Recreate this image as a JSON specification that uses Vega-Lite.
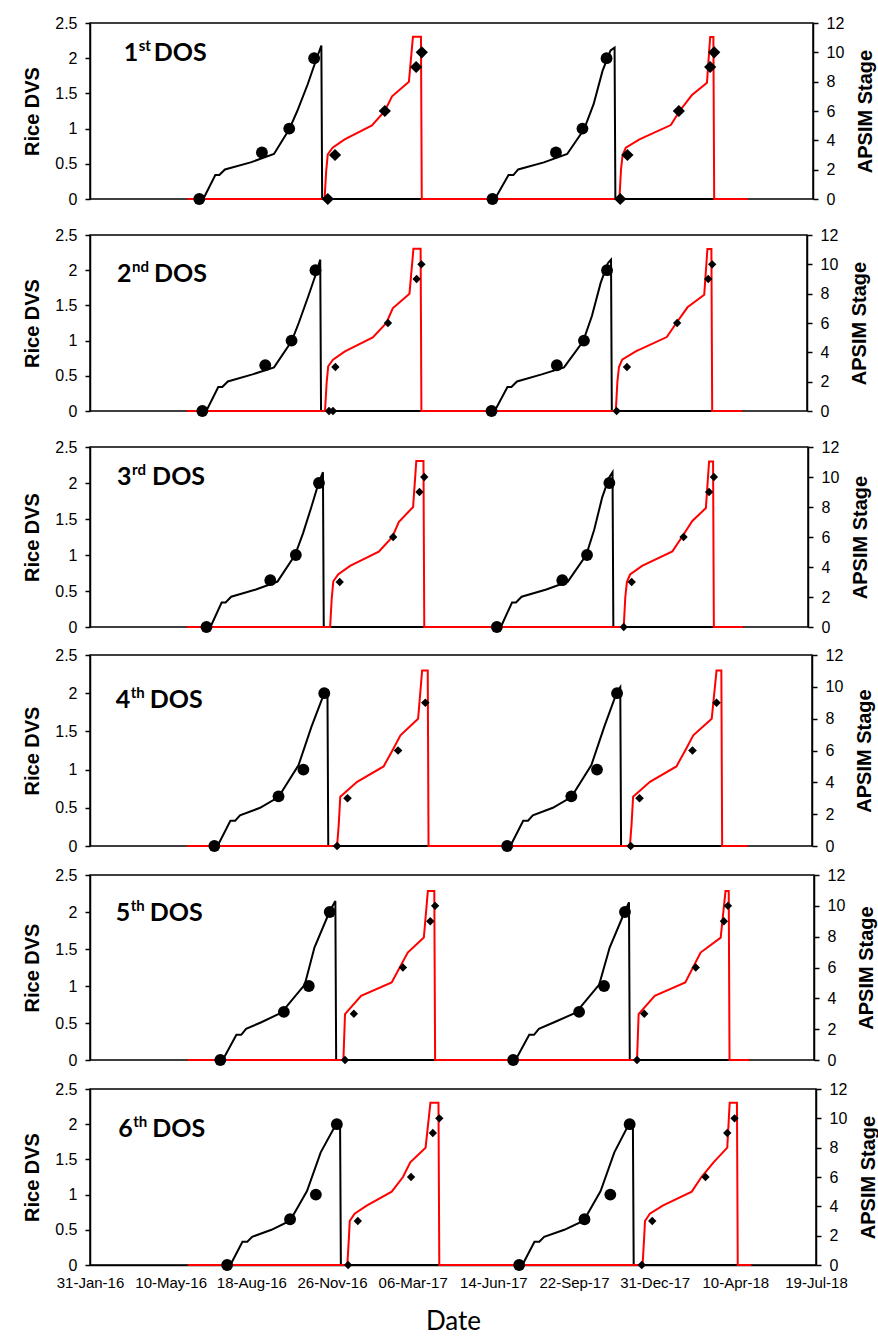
{
"$schema": "https://vega.github.io/schema/vega-lite/v6.json",
"padding": {"left": 22, "top": 14, "right": 5, "bottom": 5},
"background": "white",
"datasets": {
"dvs": [
{"p":1,"d":"2016-05-31","v":0},{"p":1,"d":"2016-06-20","v":0},{"p":1,"d":"2016-07-05","v":0.34},{"p":1,"d":"2016-07-10","v":0.34},{"p":1,"d":"2016-07-17","v":0.42},{"p":1,"d":"2016-08-18","v":0.52},{"p":1,"d":"2016-09-16","v":0.64},{"p":1,"d":"2016-10-05","v":0.99},{"p":1,"d":"2016-10-15","v":1.25},{"p":1,"d":"2016-10-28","v":1.63},{"p":1,"d":"2016-11-07","v":1.96},{"p":1,"d":"2016-11-14","v":2.18},{"p":1,"d":"2016-11-15","v":0},{"p":1,"d":"2017-06-18","v":0},{"p":1,"d":"2017-07-05","v":0.34},{"p":1,"d":"2017-07-11","v":0.34},{"p":1,"d":"2017-07-17","v":0.42},{"p":1,"d":"2017-08-18","v":0.52},{"p":1,"d":"2017-09-16","v":0.64},{"p":1,"d":"2017-10-07","v":0.99},{"p":1,"d":"2017-10-19","v":1.35},{"p":1,"d":"2017-10-30","v":1.82},{"p":1,"d":"2017-11-09","v":2.11},{"p":1,"d":"2017-11-14","v":2.15},{"p":1,"d":"2017-11-15","v":0},{"p":1,"d":"2018-04-29","v":0},
{"p":2,"d":"2016-05-31","v":0},{"p":2,"d":"2016-06-25","v":0},{"p":2,"d":"2016-07-10","v":0.34},{"p":2,"d":"2016-07-15","v":0.34},{"p":2,"d":"2016-07-22","v":0.42},{"p":2,"d":"2016-08-22","v":0.52},{"p":2,"d":"2016-09-18","v":0.62},{"p":2,"d":"2016-10-10","v":0.99},{"p":2,"d":"2016-10-19","v":1.25},{"p":2,"d":"2016-10-31","v":1.63},{"p":2,"d":"2016-11-10","v":1.96},{"p":2,"d":"2016-11-15","v":2.15},{"p":2,"d":"2016-11-16","v":0},{"p":2,"d":"2017-06-22","v":0},{"p":2,"d":"2017-07-08","v":0.34},{"p":2,"d":"2017-07-13","v":0.34},{"p":2,"d":"2017-07-20","v":0.42},{"p":2,"d":"2017-08-20","v":0.52},{"p":2,"d":"2017-09-17","v":0.62},{"p":2,"d":"2017-10-11","v":0.99},{"p":2,"d":"2017-10-22","v":1.35},{"p":2,"d":"2017-11-02","v":1.82},{"p":2,"d":"2017-11-11","v":2.1},{"p":2,"d":"2017-11-15","v":2.15},{"p":2,"d":"2017-11-16","v":0},{"p":2,"d":"2018-04-29","v":0},
{"p":3,"d":"2016-05-31","v":0},{"p":3,"d":"2016-06-30","v":0},{"p":3,"d":"2016-07-14","v":0.34},{"p":3,"d":"2016-07-19","v":0.34},{"p":3,"d":"2016-07-26","v":0.42},{"p":3,"d":"2016-08-26","v":0.52},{"p":3,"d":"2016-09-22","v":0.63},{"p":3,"d":"2016-10-14","v":1.0},{"p":3,"d":"2016-10-24","v":1.3},{"p":3,"d":"2016-11-03","v":1.65},{"p":3,"d":"2016-11-12","v":1.98},{"p":3,"d":"2016-11-18","v":2.15},{"p":3,"d":"2016-11-19","v":0},{"p":3,"d":"2017-06-29","v":0},{"p":3,"d":"2017-07-13","v":0.34},{"p":3,"d":"2017-07-18","v":0.34},{"p":3,"d":"2017-07-25","v":0.42},{"p":3,"d":"2017-08-25","v":0.52},{"p":3,"d":"2017-09-21","v":0.63},{"p":3,"d":"2017-10-14","v":1.0},{"p":3,"d":"2017-10-24","v":1.35},{"p":3,"d":"2017-11-03","v":1.8},{"p":3,"d":"2017-11-12","v":2.08},{"p":3,"d":"2017-11-16","v":2.15},{"p":3,"d":"2017-11-17","v":0},{"p":3,"d":"2018-04-29","v":0},
{"p":4,"d":"2016-05-31","v":0},{"p":4,"d":"2016-07-08","v":0},{"p":4,"d":"2016-07-24","v":0.33},{"p":4,"d":"2016-07-30","v":0.33},{"p":4,"d":"2016-08-05","v":0.4},{"p":4,"d":"2016-08-30","v":0.5},{"p":4,"d":"2016-09-22","v":0.64},{"p":4,"d":"2016-10-17","v":1.06},{"p":4,"d":"2016-11-02","v":1.56},{"p":4,"d":"2016-11-18","v":2.0},{"p":4,"d":"2016-11-22","v":2.03},{"p":4,"d":"2016-11-23","v":0},{"p":4,"d":"2017-07-08","v":0},{"p":4,"d":"2017-07-24","v":0.33},{"p":4,"d":"2017-07-30","v":0.33},{"p":4,"d":"2017-08-05","v":0.4},{"p":4,"d":"2017-08-30","v":0.5},{"p":4,"d":"2017-09-22","v":0.64},{"p":4,"d":"2017-10-17","v":1.06},{"p":4,"d":"2017-11-02","v":1.56},{"p":4,"d":"2017-11-18","v":2.02},{"p":4,"d":"2017-11-22","v":2.08},{"p":4,"d":"2017-11-23","v":0},{"p":4,"d":"2018-04-30","v":0},
{"p":5,"d":"2016-05-31","v":0},{"p":5,"d":"2016-07-14","v":0},{"p":5,"d":"2016-07-31","v":0.34},{"p":5,"d":"2016-08-06","v":0.34},{"p":5,"d":"2016-08-12","v":0.42},{"p":5,"d":"2016-08-31","v":0.51},{"p":5,"d":"2016-09-25","v":0.64},{"p":5,"d":"2016-10-24","v":1.02},{"p":5,"d":"2016-11-05","v":1.52},{"p":5,"d":"2016-11-24","v":2.01},{"p":5,"d":"2016-12-01","v":2.15},{"p":5,"d":"2016-12-02","v":0},{"p":5,"d":"2017-07-13","v":0},{"p":5,"d":"2017-07-30","v":0.34},{"p":5,"d":"2017-08-05","v":0.34},{"p":5,"d":"2017-08-11","v":0.42},{"p":5,"d":"2017-08-30","v":0.51},{"p":5,"d":"2017-09-26","v":0.64},{"p":5,"d":"2017-10-25","v":1.02},{"p":5,"d":"2017-11-07","v":1.52},{"p":5,"d":"2017-11-26","v":2.01},{"p":5,"d":"2017-12-01","v":2.13},{"p":5,"d":"2017-12-02","v":0},{"p":5,"d":"2018-04-30","v":0},
{"p":6,"d":"2016-05-31","v":0},{"p":6,"d":"2016-07-23","v":0},{"p":6,"d":"2016-08-07","v":0.33},{"p":6,"d":"2016-08-13","v":0.33},{"p":6,"d":"2016-08-19","v":0.4},{"p":6,"d":"2016-09-12","v":0.5},{"p":6,"d":"2016-10-05","v":0.63},{"p":6,"d":"2016-10-26","v":1.05},{"p":6,"d":"2016-11-12","v":1.6},{"p":6,"d":"2016-12-01","v":2.0},{"p":6,"d":"2016-12-06","v":2.02},{"p":6,"d":"2016-12-07","v":0},{"p":6,"d":"2017-07-20","v":0},{"p":6,"d":"2017-08-04","v":0.33},{"p":6,"d":"2017-08-10","v":0.33},{"p":6,"d":"2017-08-16","v":0.4},{"p":6,"d":"2017-09-10","v":0.5},{"p":6,"d":"2017-10-04","v":0.63},{"p":6,"d":"2017-10-25","v":1.05},{"p":6,"d":"2017-11-11","v":1.6},{"p":6,"d":"2017-11-29","v":2.0},{"p":6,"d":"2017-12-04","v":2.02},{"p":6,"d":"2017-12-05","v":0},{"p":6,"d":"2018-04-30","v":0}
],
"st": [
{"p":1,"d":"2016-05-31","v":0},{"p":1,"d":"2016-11-18","v":0},{"p":1,"d":"2016-11-20","v":1.9},{"p":1,"d":"2016-11-22","v":3.05},{"p":1,"d":"2016-11-28","v":3.5},{"p":1,"d":"2016-12-13","v":4.07},{"p":1,"d":"2017-01-16","v":5.02},{"p":1,"d":"2017-02-01","v":6.0},{"p":1,"d":"2017-02-10","v":7.0},{"p":1,"d":"2017-03-03","v":8.0},{"p":1,"d":"2017-03-08","v":11.06},{"p":1,"d":"2017-03-18","v":11.06},{"p":1,"d":"2017-03-19","v":0},{"p":1,"d":"2017-11-20","v":0},{"p":1,"d":"2017-11-22","v":2.0},{"p":1,"d":"2017-11-24","v":3.0},{"p":1,"d":"2017-11-28","v":3.5},{"p":1,"d":"2017-12-15","v":4.07},{"p":1,"d":"2018-01-23","v":5.04},{"p":1,"d":"2018-02-03","v":6.0},{"p":1,"d":"2018-02-18","v":7.07},{"p":1,"d":"2018-03-09","v":7.93},{"p":1,"d":"2018-03-13","v":11.04},{"p":1,"d":"2018-03-17","v":11.04},{"p":1,"d":"2018-03-18","v":0},{"p":1,"d":"2018-04-29","v":0},
{"p":2,"d":"2016-05-31","v":0},{"p":2,"d":"2016-11-21","v":0},{"p":2,"d":"2016-11-23","v":1.9},{"p":2,"d":"2016-11-25","v":3.05},{"p":2,"d":"2016-12-01","v":3.5},{"p":2,"d":"2016-12-16","v":4.07},{"p":2,"d":"2017-01-20","v":5.02},{"p":2,"d":"2017-02-06","v":6.0},{"p":2,"d":"2017-02-14","v":7.0},{"p":2,"d":"2017-03-07","v":8.0},{"p":2,"d":"2017-03-12","v":11.06},{"p":2,"d":"2017-03-21","v":11.06},{"p":2,"d":"2017-03-22","v":0},{"p":2,"d":"2017-11-21","v":0},{"p":2,"d":"2017-11-23","v":2.0},{"p":2,"d":"2017-11-25","v":3.0},{"p":2,"d":"2017-11-29","v":3.5},{"p":2,"d":"2017-12-16","v":4.07},{"p":2,"d":"2018-01-24","v":5.04},{"p":2,"d":"2018-02-05","v":6.0},{"p":2,"d":"2018-02-19","v":7.07},{"p":2,"d":"2018-03-12","v":7.93},{"p":2,"d":"2018-03-16","v":11.04},{"p":2,"d":"2018-03-21","v":11.04},{"p":2,"d":"2018-03-22","v":0},{"p":2,"d":"2018-04-29","v":0},
{"p":3,"d":"2016-05-31","v":0},{"p":3,"d":"2016-11-27","v":0},{"p":3,"d":"2016-11-29","v":1.9},{"p":3,"d":"2016-12-01","v":3.05},{"p":3,"d":"2016-12-07","v":3.5},{"p":3,"d":"2016-12-22","v":4.07},{"p":3,"d":"2017-01-27","v":5.02},{"p":3,"d":"2017-02-13","v":6.0},{"p":3,"d":"2017-02-21","v":7.0},{"p":3,"d":"2017-03-11","v":8.0},{"p":3,"d":"2017-03-15","v":11.06},{"p":3,"d":"2017-03-24","v":11.06},{"p":3,"d":"2017-03-25","v":0},{"p":3,"d":"2017-11-30","v":0},{"p":3,"d":"2017-12-02","v":2.0},{"p":3,"d":"2017-12-04","v":3.0},{"p":3,"d":"2017-12-08","v":3.5},{"p":3,"d":"2017-12-23","v":4.07},{"p":3,"d":"2018-01-30","v":5.04},{"p":3,"d":"2018-02-11","v":6.0},{"p":3,"d":"2018-02-24","v":7.07},{"p":3,"d":"2018-03-13","v":7.93},{"p":3,"d":"2018-03-17","v":11.04},{"p":3,"d":"2018-03-22","v":11.04},{"p":3,"d":"2018-03-23","v":0},{"p":3,"d":"2018-04-29","v":0},
{"p":4,"d":"2016-05-31","v":0},{"p":4,"d":"2016-12-04","v":0},{"p":4,"d":"2016-12-06","v":1.3},{"p":4,"d":"2016-12-08","v":3.09},{"p":4,"d":"2016-12-29","v":4.03},{"p":4,"d":"2017-01-31","v":5.0},{"p":4,"d":"2017-02-12","v":6.1},{"p":4,"d":"2017-02-21","v":6.95},{"p":4,"d":"2017-03-15","v":7.99},{"p":4,"d":"2017-03-20","v":11.02},{"p":4,"d":"2017-03-27","v":11.02},{"p":4,"d":"2017-03-28","v":0},{"p":4,"d":"2017-12-04","v":0},{"p":4,"d":"2017-12-06","v":1.3},{"p":4,"d":"2017-12-08","v":3.09},{"p":4,"d":"2017-12-29","v":4.03},{"p":4,"d":"2018-01-31","v":5.0},{"p":4,"d":"2018-02-12","v":6.1},{"p":4,"d":"2018-02-21","v":6.95},{"p":4,"d":"2018-03-16","v":7.99},{"p":4,"d":"2018-03-22","v":11.02},{"p":4,"d":"2018-03-28","v":11.02},{"p":4,"d":"2018-03-29","v":0},{"p":4,"d":"2018-04-30","v":0},
{"p":5,"d":"2016-05-31","v":0},{"p":5,"d":"2016-12-11","v":0},{"p":5,"d":"2016-12-13","v":2.98},{"p":5,"d":"2017-01-02","v":4.16},{"p":5,"d":"2017-02-09","v":5.03},{"p":5,"d":"2017-03-01","v":6.97},{"p":5,"d":"2017-03-21","v":7.94},{"p":5,"d":"2017-03-26","v":10.96},{"p":5,"d":"2017-04-03","v":10.96},{"p":5,"d":"2017-04-04","v":0},{"p":5,"d":"2017-12-11","v":0},{"p":5,"d":"2017-12-13","v":2.98},{"p":5,"d":"2018-01-02","v":4.16},{"p":5,"d":"2018-02-09","v":5.03},{"p":5,"d":"2018-02-28","v":6.97},{"p":5,"d":"2018-03-25","v":7.94},{"p":5,"d":"2018-03-31","v":10.96},{"p":5,"d":"2018-04-04","v":10.96},{"p":5,"d":"2018-04-05","v":0},{"p":5,"d":"2018-04-30","v":0},
{"p":6,"d":"2016-05-31","v":0},{"p":6,"d":"2016-12-15","v":0},{"p":6,"d":"2016-12-17","v":1.9},{"p":6,"d":"2016-12-18","v":3.0},{"p":6,"d":"2016-12-24","v":3.5},{"p":6,"d":"2017-01-08","v":4.05},{"p":6,"d":"2017-02-08","v":5.0},{"p":6,"d":"2017-02-22","v":6.0},{"p":6,"d":"2017-03-03","v":7.0},{"p":6,"d":"2017-03-22","v":8.0},{"p":6,"d":"2017-03-28","v":11.06},{"p":6,"d":"2017-04-07","v":11.06},{"p":6,"d":"2017-04-08","v":0},{"p":6,"d":"2017-12-16","v":0},{"p":6,"d":"2017-12-18","v":1.9},{"p":6,"d":"2017-12-19","v":3.0},{"p":6,"d":"2017-12-25","v":3.5},{"p":6,"d":"2018-01-10","v":4.05},{"p":6,"d":"2018-02-15","v":5.0},{"p":6,"d":"2018-02-27","v":6.0},{"p":6,"d":"2018-03-14","v":7.0},{"p":6,"d":"2018-03-31","v":8.0},{"p":6,"d":"2018-04-03","v":11.06},{"p":6,"d":"2018-04-12","v":11.06},{"p":6,"d":"2018-04-13","v":0},{"p":6,"d":"2018-04-30","v":0}
],
"dvsobs": [
{"p":1,"d":"2016-06-15","v":0},{"p":1,"d":"2016-09-01","v":0.66},{"p":1,"d":"2016-10-05","v":1.0},{"p":1,"d":"2016-11-05","v":2.0},{"p":1,"d":"2017-06-15","v":0},{"p":1,"d":"2017-09-02","v":0.66},{"p":1,"d":"2017-10-05","v":1.0},{"p":1,"d":"2017-11-04","v":2.0},
{"p":2,"d":"2016-06-20","v":0},{"p":2,"d":"2016-09-07","v":0.65},{"p":2,"d":"2016-10-10","v":1.0},{"p":2,"d":"2016-11-09","v":2.0},{"p":2,"d":"2017-06-18","v":0},{"p":2,"d":"2017-09-08","v":0.65},{"p":2,"d":"2017-10-12","v":1.0},{"p":2,"d":"2017-11-10","v":2.0},
{"p":3,"d":"2016-06-25","v":0},{"p":3,"d":"2016-09-13","v":0.65},{"p":3,"d":"2016-10-15","v":1.0},{"p":3,"d":"2016-11-13","v":2.0},{"p":3,"d":"2017-06-24","v":0},{"p":3,"d":"2017-09-14","v":0.65},{"p":3,"d":"2017-10-15","v":1.0},{"p":3,"d":"2017-11-12","v":2.0},
{"p":4,"d":"2016-07-04","v":0},{"p":4,"d":"2016-09-22","v":0.65},{"p":4,"d":"2016-10-23","v":1.0},{"p":4,"d":"2016-11-18","v":2.0},{"p":4,"d":"2017-07-04","v":0},{"p":4,"d":"2017-09-22","v":0.65},{"p":4,"d":"2017-10-24","v":1.0},{"p":4,"d":"2017-11-18","v":2.0},
{"p":5,"d":"2016-07-11","v":0},{"p":5,"d":"2016-09-28","v":0.65},{"p":5,"d":"2016-10-29","v":1.0},{"p":5,"d":"2016-11-24","v":2.0},{"p":5,"d":"2017-07-10","v":0},{"p":5,"d":"2017-09-30","v":0.65},{"p":5,"d":"2017-10-31","v":1.0},{"p":5,"d":"2017-11-26","v":2.0},
{"p":6,"d":"2016-07-19","v":0},{"p":6,"d":"2016-10-05","v":0.65},{"p":6,"d":"2016-11-06","v":1.0},{"p":6,"d":"2016-12-02","v":2.0},{"p":6,"d":"2017-07-16","v":0},{"p":6,"d":"2017-10-05","v":0.65},{"p":6,"d":"2017-11-06","v":1.0},{"p":6,"d":"2017-11-30","v":2.0}
],
"stobs": [
{"p":1,"d":"2016-11-22","v":0},{"p":1,"d":"2016-12-01","v":3},{"p":1,"d":"2017-02-01","v":6},{"p":1,"d":"2017-03-12","v":9},{"p":1,"d":"2017-03-19","v":10},{"p":1,"d":"2017-11-21","v":0},{"p":1,"d":"2017-11-30","v":3},{"p":1,"d":"2018-02-02","v":6},{"p":1,"d":"2018-03-13","v":9},{"p":1,"d":"2018-03-18","v":10},
{"p":2,"d":"2016-11-26","v":0},{"p":2,"d":"2016-12-01","v":0},{"p":2,"d":"2016-12-04","v":3},{"p":2,"d":"2017-02-08","v":6},{"p":2,"d":"2017-03-16","v":9},{"p":2,"d":"2017-03-22","v":10},{"p":2,"d":"2017-11-22","v":0},{"p":2,"d":"2017-12-05","v":3},{"p":2,"d":"2018-02-06","v":6},{"p":2,"d":"2018-03-17","v":9},{"p":2,"d":"2018-03-22","v":10},
{"p":3,"d":"2016-12-09","v":3},{"p":3,"d":"2017-02-14","v":6},{"p":3,"d":"2017-03-19","v":9},{"p":3,"d":"2017-03-25","v":10},{"p":3,"d":"2017-11-30","v":0},{"p":3,"d":"2017-12-10","v":3},{"p":3,"d":"2018-02-13","v":6},{"p":3,"d":"2018-03-17","v":9},{"p":3,"d":"2018-03-23","v":10},
{"p":4,"d":"2016-12-04","v":0},{"p":4,"d":"2016-12-17","v":3},{"p":4,"d":"2017-02-18","v":6},{"p":4,"d":"2017-03-24","v":9},{"p":4,"d":"2017-12-05","v":0},{"p":4,"d":"2017-12-16","v":3},{"p":4,"d":"2018-02-20","v":6},{"p":4,"d":"2018-03-22","v":9},
{"p":5,"d":"2016-12-13","v":0},{"p":5,"d":"2016-12-24","v":3},{"p":5,"d":"2017-02-23","v":6},{"p":5,"d":"2017-03-29","v":9},{"p":5,"d":"2017-04-04","v":10},{"p":5,"d":"2017-12-11","v":0},{"p":5,"d":"2017-12-20","v":3},{"p":5,"d":"2018-02-22","v":6},{"p":5,"d":"2018-03-29","v":9},{"p":5,"d":"2018-04-03","v":10},
{"p":6,"d":"2016-12-16","v":0},{"p":6,"d":"2016-12-28","v":3},{"p":6,"d":"2017-03-04","v":6},{"p":6,"d":"2017-03-31","v":9},{"p":6,"d":"2017-04-08","v":10},{"p":6,"d":"2017-12-15","v":0},{"p":6,"d":"2017-12-28","v":3},{"p":6,"d":"2018-03-04","v":6},{"p":6,"d":"2018-03-31","v":9},{"p":6,"d":"2018-04-09","v":10}
],
"lab": [
{"p":1,"n":"1","s":"st","t":"DOS"},{"p":2,"n":"2","s":"nd","t":"DOS"},{"p":3,"n":"3","s":"rd","t":"DOS"},{"p":4,"n":"4","s":"th","t":"DOS"},{"p":5,"n":"5","s":"th","t":"DOS"},{"p":6,"n":"6","s":"th","t":"DOS"}
]
},
"spacing": 10,
"vconcat": [
{"spacing": 36, "bounds": "flush", "vconcat": [
{"width": 723, "height": 176, "resolve": {"scale": {"y": "independent"}}, "layer": [
{"data": {"name": "dvs"}, "transform": [{"filter": "datum.p == 1"}], "mark": {"type": "line", "color": "#000", "strokeWidth": 2}, "encoding": {"x": {"field": "d", "type": "temporal", "scale": {"type": "utc", "domain": [1454198400000, 1531958400000]}, "axis": null}, "y": {"field": "v", "type": "quantitative", "scale": {"domain": [0, 2.5]}, "axis": {"title": "Rice DVS", "orient": "left", "values": [0, 0.5, 1, 1.5, 2, 2.5], "format": "~g"}}}},
{"data": {"name": "st"}, "transform": [{"filter": "datum.p == 1"}], "mark": {"type": "line", "color": "#f00", "strokeWidth": 2}, "encoding": {"x": {"field": "d", "type": "temporal", "axis": null}, "y": {"field": "v", "type": "quantitative", "scale": {"domain": [0, 12]}, "axis": {"title": "APSIM Stage", "orient": "right", "values": [0, 2, 4, 6, 8, 10, 12], "titleAngle": 270, "titleBaseline": "top"}}}},
{"data": {"name": "dvsobs"}, "transform": [{"filter": "datum.p == 1"}], "mark": {"type": "point", "shape": "circle", "filled": true, "color": "#000", "opacity": 1, "size": 140}, "encoding": {"x": {"field": "d", "type": "temporal", "axis": null}, "y": {"field": "v", "type": "quantitative", "scale": {"domain": [0, 2.5]}, "axis": null}}},
{"data": {"name": "stobs"}, "transform": [{"filter": "datum.p == 1"}], "mark": {"type": "point", "shape": "diamond", "filled": true, "color": "#000", "opacity": 1, "size": 150}, "encoding": {"x": {"field": "d", "type": "temporal", "axis": null}, "y": {"field": "v", "type": "quantitative", "scale": {"domain": [0, 12]}, "axis": null}}},
{"data": {"name": "lab"}, "transform": [{"filter": "datum.p == 1"}], "mark": {"type": "text", "fontSize": 25, "align": "left", "baseline": "alphabetic"}, "encoding": {"x": {"datum": 1457827200000, "type": "temporal", "axis": null}, "y": {"datum": 1.96, "type": "quantitative", "scale": {"domain": [0, 2.5]}, "axis": null}, "text": {"field": "n"}}},
{"data": {"name": "lab"}, "transform": [{"filter": "datum.p == 1"}], "mark": {"type": "text", "fontSize": 15, "align": "left", "baseline": "alphabetic", "dx": 15, "dy": -10}, "encoding": {"x": {"datum": 1457827200000, "type": "temporal", "axis": null}, "y": {"datum": 1.96, "type": "quantitative", "scale": {"domain": [0, 2.5]}, "axis": null}, "text": {"field": "s"}}},
{"data": {"name": "lab"}, "transform": [{"filter": "datum.p == 1"}], "mark": {"type": "text", "fontSize": 25, "align": "left", "baseline": "alphabetic", "dx": 30}, "encoding": {"x": {"datum": 1457827200000, "type": "temporal", "axis": null}, "y": {"datum": 1.96, "type": "quantitative", "scale": {"domain": [0, 2.5]}, "axis": null}, "text": {"field": "t"}}}
]},
{"width": 717, "height": 176, "resolve": {"scale": {"y": "independent"}}, "layer": [
{"data": {"name": "dvs"}, "transform": [{"filter": "datum.p == 2"}], "mark": {"type": "line", "color": "#000", "strokeWidth": 2}, "encoding": {"x": {"field": "d", "type": "temporal", "scale": {"type": "utc", "domain": [1454198400000, 1531958400000]}, "axis": null}, "y": {"field": "v", "type": "quantitative", "scale": {"domain": [0, 2.5]}, "axis": {"title": "Rice DVS", "orient": "left", "values": [0, 0.5, 1, 1.5, 2, 2.5], "format": "~g"}}}},
{"data": {"name": "st"}, "transform": [{"filter": "datum.p == 2"}], "mark": {"type": "line", "color": "#f00", "strokeWidth": 2}, "encoding": {"x": {"field": "d", "type": "temporal", "axis": null}, "y": {"field": "v", "type": "quantitative", "scale": {"domain": [0, 12]}, "axis": {"title": "APSIM Stage", "orient": "right", "values": [0, 2, 4, 6, 8, 10, 12], "titleAngle": 270, "titleBaseline": "top"}}}},
{"data": {"name": "dvsobs"}, "transform": [{"filter": "datum.p == 2"}], "mark": {"type": "point", "shape": "circle", "filled": true, "color": "#000", "opacity": 1, "size": 140}, "encoding": {"x": {"field": "d", "type": "temporal", "axis": null}, "y": {"field": "v", "type": "quantitative", "scale": {"domain": [0, 2.5]}, "axis": null}}},
{"data": {"name": "stobs"}, "transform": [{"filter": "datum.p == 2"}], "mark": {"type": "point", "shape": "diamond", "filled": true, "color": "#000", "opacity": 1, "size": 70}, "encoding": {"x": {"field": "d", "type": "temporal", "axis": null}, "y": {"field": "v", "type": "quantitative", "scale": {"domain": [0, 12]}, "axis": null}}},
{"data": {"name": "lab"}, "transform": [{"filter": "datum.p == 2"}], "mark": {"type": "text", "fontSize": 25, "align": "left", "baseline": "alphabetic"}, "encoding": {"x": {"datum": 1457136000000, "type": "temporal", "axis": null}, "y": {"datum": 1.83, "type": "quantitative", "scale": {"domain": [0, 2.5]}, "axis": null}, "text": {"field": "n"}}},
{"data": {"name": "lab"}, "transform": [{"filter": "datum.p == 2"}], "mark": {"type": "text", "fontSize": 15, "align": "left", "baseline": "alphabetic", "dx": 15, "dy": -10}, "encoding": {"x": {"datum": 1457136000000, "type": "temporal", "axis": null}, "y": {"datum": 1.83, "type": "quantitative", "scale": {"domain": [0, 2.5]}, "axis": null}, "text": {"field": "s"}}},
{"data": {"name": "lab"}, "transform": [{"filter": "datum.p == 2"}], "mark": {"type": "text", "fontSize": 25, "align": "left", "baseline": "alphabetic", "dx": 37}, "encoding": {"x": {"datum": 1457136000000, "type": "temporal", "axis": null}, "y": {"datum": 1.83, "type": "quantitative", "scale": {"domain": [0, 2.5]}, "axis": null}, "text": {"field": "t"}}}
]},
{"width": 718, "height": 180, "resolve": {"scale": {"y": "independent"}}, "layer": [
{"data": {"name": "dvs"}, "transform": [{"filter": "datum.p == 3"}], "mark": {"type": "line", "color": "#000", "strokeWidth": 2}, "encoding": {"x": {"field": "d", "type": "temporal", "scale": {"type": "utc", "domain": [1454198400000, 1531958400000]}, "axis": null}, "y": {"field": "v", "type": "quantitative", "scale": {"domain": [0, 2.5]}, "axis": {"title": "Rice DVS", "orient": "left", "values": [0, 0.5, 1, 1.5, 2, 2.5], "format": "~g"}}}},
{"data": {"name": "st"}, "transform": [{"filter": "datum.p == 3"}], "mark": {"type": "line", "color": "#f00", "strokeWidth": 2}, "encoding": {"x": {"field": "d", "type": "temporal", "axis": null}, "y": {"field": "v", "type": "quantitative", "scale": {"domain": [0, 12]}, "axis": {"title": "APSIM Stage", "orient": "right", "values": [0, 2, 4, 6, 8, 10, 12], "titleAngle": 270, "titleBaseline": "top"}}}},
{"data": {"name": "dvsobs"}, "transform": [{"filter": "datum.p == 3"}], "mark": {"type": "point", "shape": "circle", "filled": true, "color": "#000", "opacity": 1, "size": 140}, "encoding": {"x": {"field": "d", "type": "temporal", "axis": null}, "y": {"field": "v", "type": "quantitative", "scale": {"domain": [0, 2.5]}, "axis": null}}},
{"data": {"name": "stobs"}, "transform": [{"filter": "datum.p == 3"}], "mark": {"type": "point", "shape": "diamond", "filled": true, "color": "#000", "opacity": 1, "size": 70}, "encoding": {"x": {"field": "d", "type": "temporal", "axis": null}, "y": {"field": "v", "type": "quantitative", "scale": {"domain": [0, 12]}, "axis": null}}},
{"data": {"name": "lab"}, "transform": [{"filter": "datum.p == 3"}], "mark": {"type": "text", "fontSize": 25, "align": "left", "baseline": "alphabetic"}, "encoding": {"x": {"datum": 1457136000000, "type": "temporal", "axis": null}, "y": {"datum": 1.97, "type": "quantitative", "scale": {"domain": [0, 2.5]}, "axis": null}, "text": {"field": "n"}}},
{"data": {"name": "lab"}, "transform": [{"filter": "datum.p == 3"}], "mark": {"type": "text", "fontSize": 15, "align": "left", "baseline": "alphabetic", "dx": 15, "dy": -10}, "encoding": {"x": {"datum": 1457136000000, "type": "temporal", "axis": null}, "y": {"datum": 1.97, "type": "quantitative", "scale": {"domain": [0, 2.5]}, "axis": null}, "text": {"field": "s"}}},
{"data": {"name": "lab"}, "transform": [{"filter": "datum.p == 3"}], "mark": {"type": "text", "fontSize": 25, "align": "left", "baseline": "alphabetic", "dx": 35}, "encoding": {"x": {"datum": 1457136000000, "type": "temporal", "axis": null}, "y": {"datum": 1.97, "type": "quantitative", "scale": {"domain": [0, 2.5]}, "axis": null}, "text": {"field": "t"}}}
]}
]},
{"spacing": 29, "bounds": "flush", "vconcat": [
{"width": 722, "height": 191, "resolve": {"scale": {"y": "independent"}}, "layer": [
{"data": {"name": "dvs"}, "transform": [{"filter": "datum.p == 4"}], "mark": {"type": "line", "color": "#000", "strokeWidth": 2}, "encoding": {"x": {"field": "d", "type": "temporal", "scale": {"type": "utc", "domain": [1454198400000, 1531958400000]}, "axis": null}, "y": {"field": "v", "type": "quantitative", "scale": {"domain": [0, 2.5]}, "axis": {"title": "Rice DVS", "orient": "left", "values": [0, 0.5, 1, 1.5, 2, 2.5], "format": "~g"}}}},
{"data": {"name": "st"}, "transform": [{"filter": "datum.p == 4"}], "mark": {"type": "line", "color": "#f00", "strokeWidth": 2}, "encoding": {"x": {"field": "d", "type": "temporal", "axis": null}, "y": {"field": "v", "type": "quantitative", "scale": {"domain": [0, 12]}, "axis": {"title": "APSIM Stage", "orient": "right", "values": [0, 2, 4, 6, 8, 10, 12], "titleAngle": 270, "titleBaseline": "top"}}}},
{"data": {"name": "dvsobs"}, "transform": [{"filter": "datum.p == 4"}], "mark": {"type": "point", "shape": "circle", "filled": true, "color": "#000", "opacity": 1, "size": 140}, "encoding": {"x": {"field": "d", "type": "temporal", "axis": null}, "y": {"field": "v", "type": "quantitative", "scale": {"domain": [0, 2.5]}, "axis": null}}},
{"data": {"name": "stobs"}, "transform": [{"filter": "datum.p == 4"}], "mark": {"type": "point", "shape": "diamond", "filled": true, "color": "#000", "opacity": 1, "size": 75}, "encoding": {"x": {"field": "d", "type": "temporal", "axis": null}, "y": {"field": "v", "type": "quantitative", "scale": {"domain": [0, 12]}, "axis": null}}},
{"data": {"name": "lab"}, "transform": [{"filter": "datum.p == 4"}], "mark": {"type": "text", "fontSize": 25, "align": "left", "baseline": "alphabetic"}, "encoding": {"x": {"datum": 1456963200000, "type": "temporal", "axis": null}, "y": {"datum": 1.8, "type": "quantitative", "scale": {"domain": [0, 2.5]}, "axis": null}, "text": {"field": "n"}}},
{"data": {"name": "lab"}, "transform": [{"filter": "datum.p == 4"}], "mark": {"type": "text", "fontSize": 15, "align": "left", "baseline": "alphabetic", "dx": 15, "dy": -10}, "encoding": {"x": {"datum": 1456963200000, "type": "temporal", "axis": null}, "y": {"datum": 1.8, "type": "quantitative", "scale": {"domain": [0, 2.5]}, "axis": null}, "text": {"field": "s"}}},
{"data": {"name": "lab"}, "transform": [{"filter": "datum.p == 4"}], "mark": {"type": "text", "fontSize": 25, "align": "left", "baseline": "alphabetic", "dx": 34}, "encoding": {"x": {"datum": 1456963200000, "type": "temporal", "axis": null}, "y": {"datum": 1.8, "type": "quantitative", "scale": {"domain": [0, 2.5]}, "axis": null}, "text": {"field": "t"}}}
]},
{"width": 724, "height": 185, "resolve": {"scale": {"y": "independent"}}, "layer": [
{"data": {"name": "dvs"}, "transform": [{"filter": "datum.p == 5"}], "mark": {"type": "line", "color": "#000", "strokeWidth": 2}, "encoding": {"x": {"field": "d", "type": "temporal", "scale": {"type": "utc", "domain": [1454198400000, 1531958400000]}, "axis": null}, "y": {"field": "v", "type": "quantitative", "scale": {"domain": [0, 2.5]}, "axis": {"title": "Rice DVS", "orient": "left", "values": [0, 0.5, 1, 1.5, 2, 2.5], "format": "~g"}}}},
{"data": {"name": "st"}, "transform": [{"filter": "datum.p == 5"}], "mark": {"type": "line", "color": "#f00", "strokeWidth": 2}, "encoding": {"x": {"field": "d", "type": "temporal", "axis": null}, "y": {"field": "v", "type": "quantitative", "scale": {"domain": [0, 12]}, "axis": {"title": "APSIM Stage", "orient": "right", "values": [0, 2, 4, 6, 8, 10, 12], "titleAngle": 270, "titleBaseline": "top"}}}},
{"data": {"name": "dvsobs"}, "transform": [{"filter": "datum.p == 5"}], "mark": {"type": "point", "shape": "circle", "filled": true, "color": "#000", "opacity": 1, "size": 140}, "encoding": {"x": {"field": "d", "type": "temporal", "axis": null}, "y": {"field": "v", "type": "quantitative", "scale": {"domain": [0, 2.5]}, "axis": null}}},
{"data": {"name": "stobs"}, "transform": [{"filter": "datum.p == 5"}], "mark": {"type": "point", "shape": "diamond", "filled": true, "color": "#000", "opacity": 1, "size": 70}, "encoding": {"x": {"field": "d", "type": "temporal", "axis": null}, "y": {"field": "v", "type": "quantitative", "scale": {"domain": [0, 12]}, "axis": null}}},
{"data": {"name": "lab"}, "transform": [{"filter": "datum.p == 5"}], "mark": {"type": "text", "fontSize": 25, "align": "left", "baseline": "alphabetic"}, "encoding": {"x": {"datum": 1456963200000, "type": "temporal", "axis": null}, "y": {"datum": 1.88, "type": "quantitative", "scale": {"domain": [0, 2.5]}, "axis": null}, "text": {"field": "n"}}},
{"data": {"name": "lab"}, "transform": [{"filter": "datum.p == 5"}], "mark": {"type": "text", "fontSize": 15, "align": "left", "baseline": "alphabetic", "dx": 15, "dy": -10}, "encoding": {"x": {"datum": 1456963200000, "type": "temporal", "axis": null}, "y": {"datum": 1.88, "type": "quantitative", "scale": {"domain": [0, 2.5]}, "axis": null}, "text": {"field": "s"}}},
{"data": {"name": "lab"}, "transform": [{"filter": "datum.p == 5"}], "mark": {"type": "text", "fontSize": 25, "align": "left", "baseline": "alphabetic", "dx": 34}, "encoding": {"x": {"datum": 1456963200000, "type": "temporal", "axis": null}, "y": {"datum": 1.88, "type": "quantitative", "scale": {"domain": [0, 2.5]}, "axis": null}, "text": {"field": "t"}}}
]},
{"width": 726, "height": 176, "resolve": {"scale": {"y": "independent"}}, "layer": [
{"data": {"name": "dvs"}, "transform": [{"filter": "datum.p == 6"}], "mark": {"type": "line", "color": "#000", "strokeWidth": 2}, "encoding": {"x": {"field": "d", "type": "temporal", "scale": {"type": "utc", "domain": [1454198400000, 1531958400000]}, "axis": {"title": "Date", "values": [1454198400000, 1462838400000, 1471478400000, 1480118400000, 1488758400000, 1497398400000, 1506038400000, 1514678400000, 1523318400000, 1531958400000], "labelExpr": "utcFormat(datum.value, '%d-%b-%y')"}}, "y": {"field": "v", "type": "quantitative", "scale": {"domain": [0, 2.5]}, "axis": {"title": "Rice DVS", "orient": "left", "values": [0, 0.5, 1, 1.5, 2, 2.5], "format": "~g"}}}},
{"data": {"name": "st"}, "transform": [{"filter": "datum.p == 6"}], "mark": {"type": "line", "color": "#f00", "strokeWidth": 2}, "encoding": {"x": {"field": "d", "type": "temporal", "axis": {"title": "Date", "values": [1454198400000, 1462838400000, 1471478400000, 1480118400000, 1488758400000, 1497398400000, 1506038400000, 1514678400000, 1523318400000, 1531958400000], "labelExpr": "utcFormat(datum.value, '%d-%b-%y')"}}, "y": {"field": "v", "type": "quantitative", "scale": {"domain": [0, 12]}, "axis": {"title": "APSIM Stage", "orient": "right", "values": [0, 2, 4, 6, 8, 10, 12], "titleAngle": 270, "titleBaseline": "top"}}}},
{"data": {"name": "dvsobs"}, "transform": [{"filter": "datum.p == 6"}], "mark": {"type": "point", "shape": "circle", "filled": true, "color": "#000", "opacity": 1, "size": 140}, "encoding": {"x": {"field": "d", "type": "temporal", "axis": {"title": "Date", "values": [1454198400000, 1462838400000, 1471478400000, 1480118400000, 1488758400000, 1497398400000, 1506038400000, 1514678400000, 1523318400000, 1531958400000], "labelExpr": "utcFormat(datum.value, '%d-%b-%y')"}}, "y": {"field": "v", "type": "quantitative", "scale": {"domain": [0, 2.5]}, "axis": null}}},
{"data": {"name": "stobs"}, "transform": [{"filter": "datum.p == 6"}], "mark": {"type": "point", "shape": "diamond", "filled": true, "color": "#000", "opacity": 1, "size": 70}, "encoding": {"x": {"field": "d", "type": "temporal", "axis": {"title": "Date", "values": [1454198400000, 1462838400000, 1471478400000, 1480118400000, 1488758400000, 1497398400000, 1506038400000, 1514678400000, 1523318400000, 1531958400000], "labelExpr": "utcFormat(datum.value, '%d-%b-%y')"}}, "y": {"field": "v", "type": "quantitative", "scale": {"domain": [0, 12]}, "axis": null}}},
{"data": {"name": "lab"}, "transform": [{"filter": "datum.p == 6"}], "mark": {"type": "text", "fontSize": 25, "align": "left", "baseline": "alphabetic"}, "encoding": {"x": {"datum": 1457222400000, "type": "temporal", "axis": {"title": "Date", "values": [1454198400000, 1462838400000, 1471478400000, 1480118400000, 1488758400000, 1497398400000, 1506038400000, 1514678400000, 1523318400000, 1531958400000], "labelExpr": "utcFormat(datum.value, '%d-%b-%y')"}}, "y": {"datum": 1.82, "type": "quantitative", "scale": {"domain": [0, 2.5]}, "axis": null}, "text": {"field": "n"}}},
{"data": {"name": "lab"}, "transform": [{"filter": "datum.p == 6"}], "mark": {"type": "text", "fontSize": 15, "align": "left", "baseline": "alphabetic", "dx": 15, "dy": -10}, "encoding": {"x": {"datum": 1457222400000, "type": "temporal", "axis": {"title": "Date", "values": [1454198400000, 1462838400000, 1471478400000, 1480118400000, 1488758400000, 1497398400000, 1506038400000, 1514678400000, 1523318400000, 1531958400000], "labelExpr": "utcFormat(datum.value, '%d-%b-%y')"}}, "y": {"datum": 1.82, "type": "quantitative", "scale": {"domain": [0, 2.5]}, "axis": null}, "text": {"field": "s"}}},
{"data": {"name": "lab"}, "transform": [{"filter": "datum.p == 6"}], "mark": {"type": "text", "fontSize": 25, "align": "left", "baseline": "alphabetic", "dx": 34}, "encoding": {"x": {"datum": 1457222400000, "type": "temporal", "axis": {"title": "Date", "values": [1454198400000, 1462838400000, 1471478400000, 1480118400000, 1488758400000, 1497398400000, 1506038400000, 1514678400000, 1523318400000, 1531958400000], "labelExpr": "utcFormat(datum.value, '%d-%b-%y')"}}, "y": {"datum": 1.82, "type": "quantitative", "scale": {"domain": [0, 2.5]}, "axis": null}, "text": {"field": "t"}}}
]}
]}
],
"config": {
"view": {"stroke": "#000", "strokeWidth": 1.5},
"axis": {"grid": false, "labelFont": "Liberation Sans", "labelFontSize": 16, "labelColor": "#000", "titleFont": "Liberation Sans", "titleFontSize": 20, "titleFontWeight": "bold", "titleColor": "#000", "domainColor": "#000", "domainWidth": 1.5, "tickColor": "#000", "tickWidth": 1.5, "tickSize": 5, "labelPadding": 8, "titlePadding": 12, "labelOverlap": false},
"axisX": {"labelFontSize": 15, "ticks": false, "labelPadding": 10, "titleFont": "Lato", "titleFontSize": 26, "titleFontWeight": "normal", "titlePadding": 18, "labelFlush": false},
"text": {"font": "Lato", "fontWeight": "bold", "color": "#000"}
}
}
